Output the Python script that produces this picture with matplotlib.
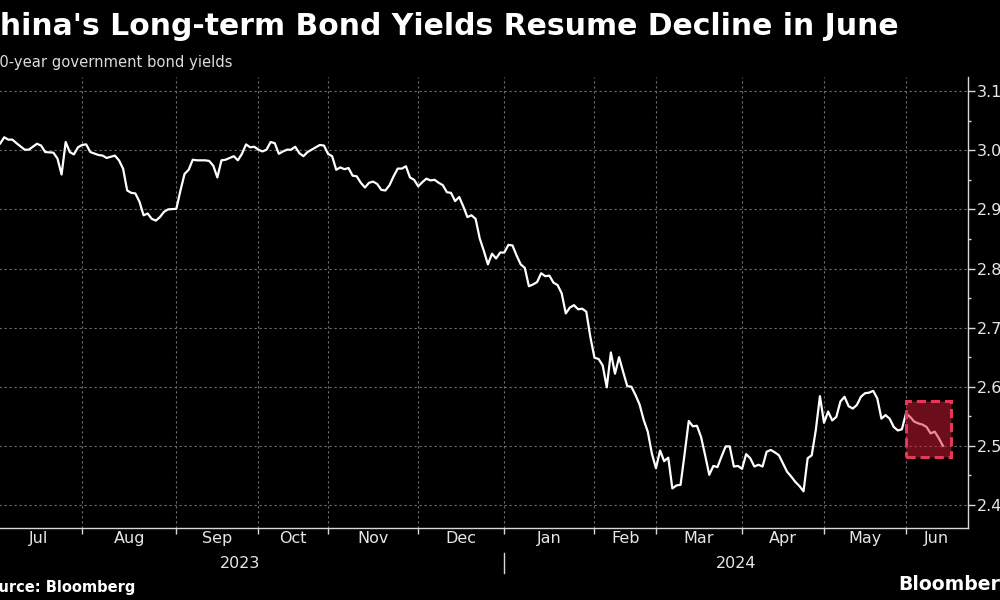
import matplotlib
matplotlib.use("Agg")
import matplotlib.pyplot as plt
from matplotlib.patches import Rectangle
from matplotlib.ticker import FixedLocator, MultipleLocator


# trading-day index (0 = first trading day of Jul 2023) and 10y yield, %
trading_day = [
    -1, 1, 2, 3, 4, 5, 7, 8, 10, 11, 12, 14, 15, 16, 17, 18, 19, 20, 21, 22,
    23, 25, 26, 27, 29, 30, 31, 32, 33, 34, 35, 36, 37, 38, 39, 40, 41, 42, 44, 45,
    46, 47, 48, 49, 51, 52, 53, 54, 55, 56, 58, 59, 60, 61, 62, 63, 64, 65, 66, 67,
    68, 69, 70, 71, 72, 73, 74, 75, 76, 77, 79, 80, 81, 82, 83, 84, 85, 86, 87, 88,
    89, 90, 91, 92, 93, 94, 95, 96, 97, 98, 99, 100, 101, 102, 103, 104, 105, 106, 107, 108,
    109, 110, 111, 112, 113, 114, 115, 116, 117, 118, 119, 120, 121, 122, 123, 124, 125, 126, 127, 128,
    129, 130, 131, 132, 133, 134, 135, 136, 137, 138, 139, 140, 141, 142, 143, 144, 145, 146, 147, 148,
    149, 150, 151, 152, 153, 154, 155, 156, 157, 158, 159, 160, 161, 162, 163, 164, 165, 166, 167, 168,
    169, 170, 171, 172, 173, 174, 175, 176, 177, 178, 179, 180, 181, 182, 183, 184, 185, 186, 187, 188,
    189, 190, 191, 192, 193, 194, 195, 196, 197, 198, 199, 200, 201, 202, 203, 204, 205, 206, 207, 208,
    209, 210, 211, 212, 213, 214, 215, 216, 217, 218, 219, 220, 221, 222, 223, 224, 225, 226, 227, 228,
    229, 230, 231,
]
yield_pct = [
    3.008, 3.011, 3.022, 3.018, 3.018, 3.012, 3.001, 3.001, 3.011, 3.008, 2.997, 2.996, 2.986, 2.959, 3.014, 2.997, 2.993, 3.005, 3.009, 3.010,
    2.997, 2.992, 2.991, 2.987, 2.991, 2.983, 2.969, 2.932, 2.928, 2.927, 2.913, 2.890, 2.893, 2.884, 2.881, 2.887, 2.896, 2.900, 2.901, 2.932,
    2.960, 2.967, 2.984, 2.983, 2.983, 2.982, 2.974, 2.954, 2.983, 2.984, 2.990, 2.983, 2.994, 3.010, 3.005, 3.006, 3.001, 2.998, 3.001, 3.014,
    3.012, 2.994, 2.998, 3.001, 3.001, 3.006, 2.995, 2.990, 2.997, 3.001, 3.009, 3.008, 2.994, 2.990, 2.967, 2.971, 2.968, 2.970, 2.957, 2.956,
    2.945, 2.937, 2.945, 2.947, 2.943, 2.933, 2.932, 2.941, 2.956, 2.969, 2.969, 2.973, 2.954, 2.950, 2.939, 2.946, 2.952, 2.949, 2.950, 2.945,
    2.941, 2.929, 2.928, 2.914, 2.921, 2.905, 2.887, 2.890, 2.884, 2.851, 2.830, 2.807, 2.825, 2.817, 2.827, 2.827, 2.840, 2.839, 2.822, 2.807,
    2.801, 2.770, 2.773, 2.777, 2.792, 2.787, 2.788, 2.776, 2.772, 2.758, 2.724, 2.734, 2.738, 2.731, 2.732, 2.727, 2.684, 2.649, 2.647, 2.636,
    2.599, 2.658, 2.622, 2.650, 2.625, 2.601, 2.600, 2.586, 2.570, 2.544, 2.524, 2.487, 2.462, 2.492, 2.474, 2.480, 2.428, 2.433, 2.434, 2.487,
    2.542, 2.533, 2.534, 2.515, 2.484, 2.451, 2.466, 2.464, 2.482, 2.499, 2.499, 2.465, 2.466, 2.461, 2.486, 2.479, 2.465, 2.468, 2.465, 2.490,
    2.493, 2.489, 2.484, 2.470, 2.456, 2.448, 2.439, 2.432, 2.423, 2.479, 2.484, 2.527, 2.584, 2.539, 2.558, 2.543, 2.549, 2.575, 2.583, 2.567,
    2.563, 2.569, 2.583, 2.589, 2.590, 2.593, 2.580, 2.546, 2.552, 2.546, 2.532, 2.526, 2.528, 2.555, 2.549, 2.541, 2.538, 2.536, 2.532, 2.521,
    2.524, 2.513, 2.500,
]

# first trading day of each month on the same index
month_names = ["Jul", "Aug", "Sep", "Oct", "Nov", "Dec",
               "Jan", "Feb", "Mar", "Apr", "May", "Jun"]
month_start = [0, 21, 44, 64, 81, 103, 124, 146, 161, 182, 202, 222]
years = ["2023", "2024"]
year_start = 124

# shaded June window
highlight_day = (222, 233)
highlight_yield = (2.481, 2.576)

y_ticks = [2.4, 2.5, 2.6, 2.7, 2.8, 2.9, 3.0, 3.1]
x_range = (-5, 237)
y_range = (2.361, 3.124)


def main():
    fig = plt.figure(figsize=(10, 6), dpi=100, facecolor="black")
    ax = fig.add_axes([-0.0245, 0.12, 0.992, 0.7517], facecolor="black")

    ax.plot(trading_day, yield_pct, color="white", lw=1.6, zorder=3)

    # red box over the last weeks
    box = Rectangle((highlight_day[0], highlight_yield[0]),
                    highlight_day[1] - highlight_day[0],
                    highlight_yield[1] - highlight_yield[0],
                    facecolor=(0.85, 0.1, 0.22, 0.5), edgecolor="#e8365a",
                    lw=2.2, linestyle=(0, (3, 1.6)), zorder=4)
    ax.add_patch(box)

    ax.set_xlim(*x_range)
    ax.set_ylim(*y_range)

    # spines
    for side in ["top", "left"]:
        ax.spines[side].set_visible(False)
    for side in ["right", "bottom"]:
        ax.spines[side].set_color("#d8d8d8")
        ax.spines[side].set_linewidth(1.0)

    # y axis on the right
    ax.yaxis.tick_right()
    ax.yaxis.set_major_locator(FixedLocator(y_ticks))
    ax.yaxis.set_minor_locator(MultipleLocator(0.05))
    ax.set_yticklabels(["%.1f" % t for t in y_ticks])
    ax.tick_params(axis="y", which="major", colors="#d8d8d8", labelcolor="#e6e6e6",
                   length=5, width=1, pad=2, labelsize=11.5)
    ax.tick_params(axis="y", which="minor", colors="#d8d8d8", length=2.5, width=1)

    # x axis: ticks at month starts, labels between them
    ax.xaxis.set_major_locator(FixedLocator(month_start))
    ax.tick_params(axis="x", which="major", colors="#d8d8d8", length=4, width=1,
                   labelbottom=False)
    bounds = month_start + [x_range[1]]
    for i, name in enumerate(month_names):
        mid = (bounds[i] + bounds[i + 1]) / 2
        ax.text(mid, -0.023, name, transform=ax.get_xaxis_transform(),
                ha="center", va="center", color="#e6e6e6", fontsize=11.5)
    # Jun 2023, only partly in view
    ax.text(x_range[0], -0.023, "Jun", transform=ax.get_xaxis_transform(),
            ha="left", va="center", color="#e6e6e6", fontsize=11.5)

    # year labels and divider
    year_mid = [(x_range[0] + year_start) / 2, (year_start + x_range[1]) / 2]
    for mid, label in zip(year_mid, years):
        ax.text(mid, -0.078, label, transform=ax.get_xaxis_transform(),
                ha="center", va="center", color="#e6e6e6", fontsize=11.5)
    ax.plot([year_start, year_start], [-0.055, -0.10], color="#d8d8d8", lw=1,
            transform=ax.get_xaxis_transform(), clip_on=False)

    # dotted grid
    ax.grid(True, which="major", color="#707070", lw=0.8, linestyle=(0, (2, 2.5)))
    ax.set_axisbelow(True)

    # header and footer
    fig.text(-0.022, 0.9417, "China's Long-term Bond Yields Resume Decline in June",
             color="white", fontsize=21.5, fontweight="bold", va="baseline", ha="left")
    fig.text(-0.010, 0.889, "10-year government bond yields",
             color="#dddddd", fontsize=10.6, va="baseline", ha="left")
    fig.text(-0.0215, 0.013, "Source: Bloomberg",
             color="white", fontsize=10.5, fontweight="bold", va="baseline", ha="left")
    fig.text(0.898, 0.017, "Bloomberg",
             color="white", fontsize=13.6, fontweight="bold", va="baseline", ha="left")

    fig.savefig("out.png", dpi=100, facecolor="black")


if __name__ == "__main__":
    main()
